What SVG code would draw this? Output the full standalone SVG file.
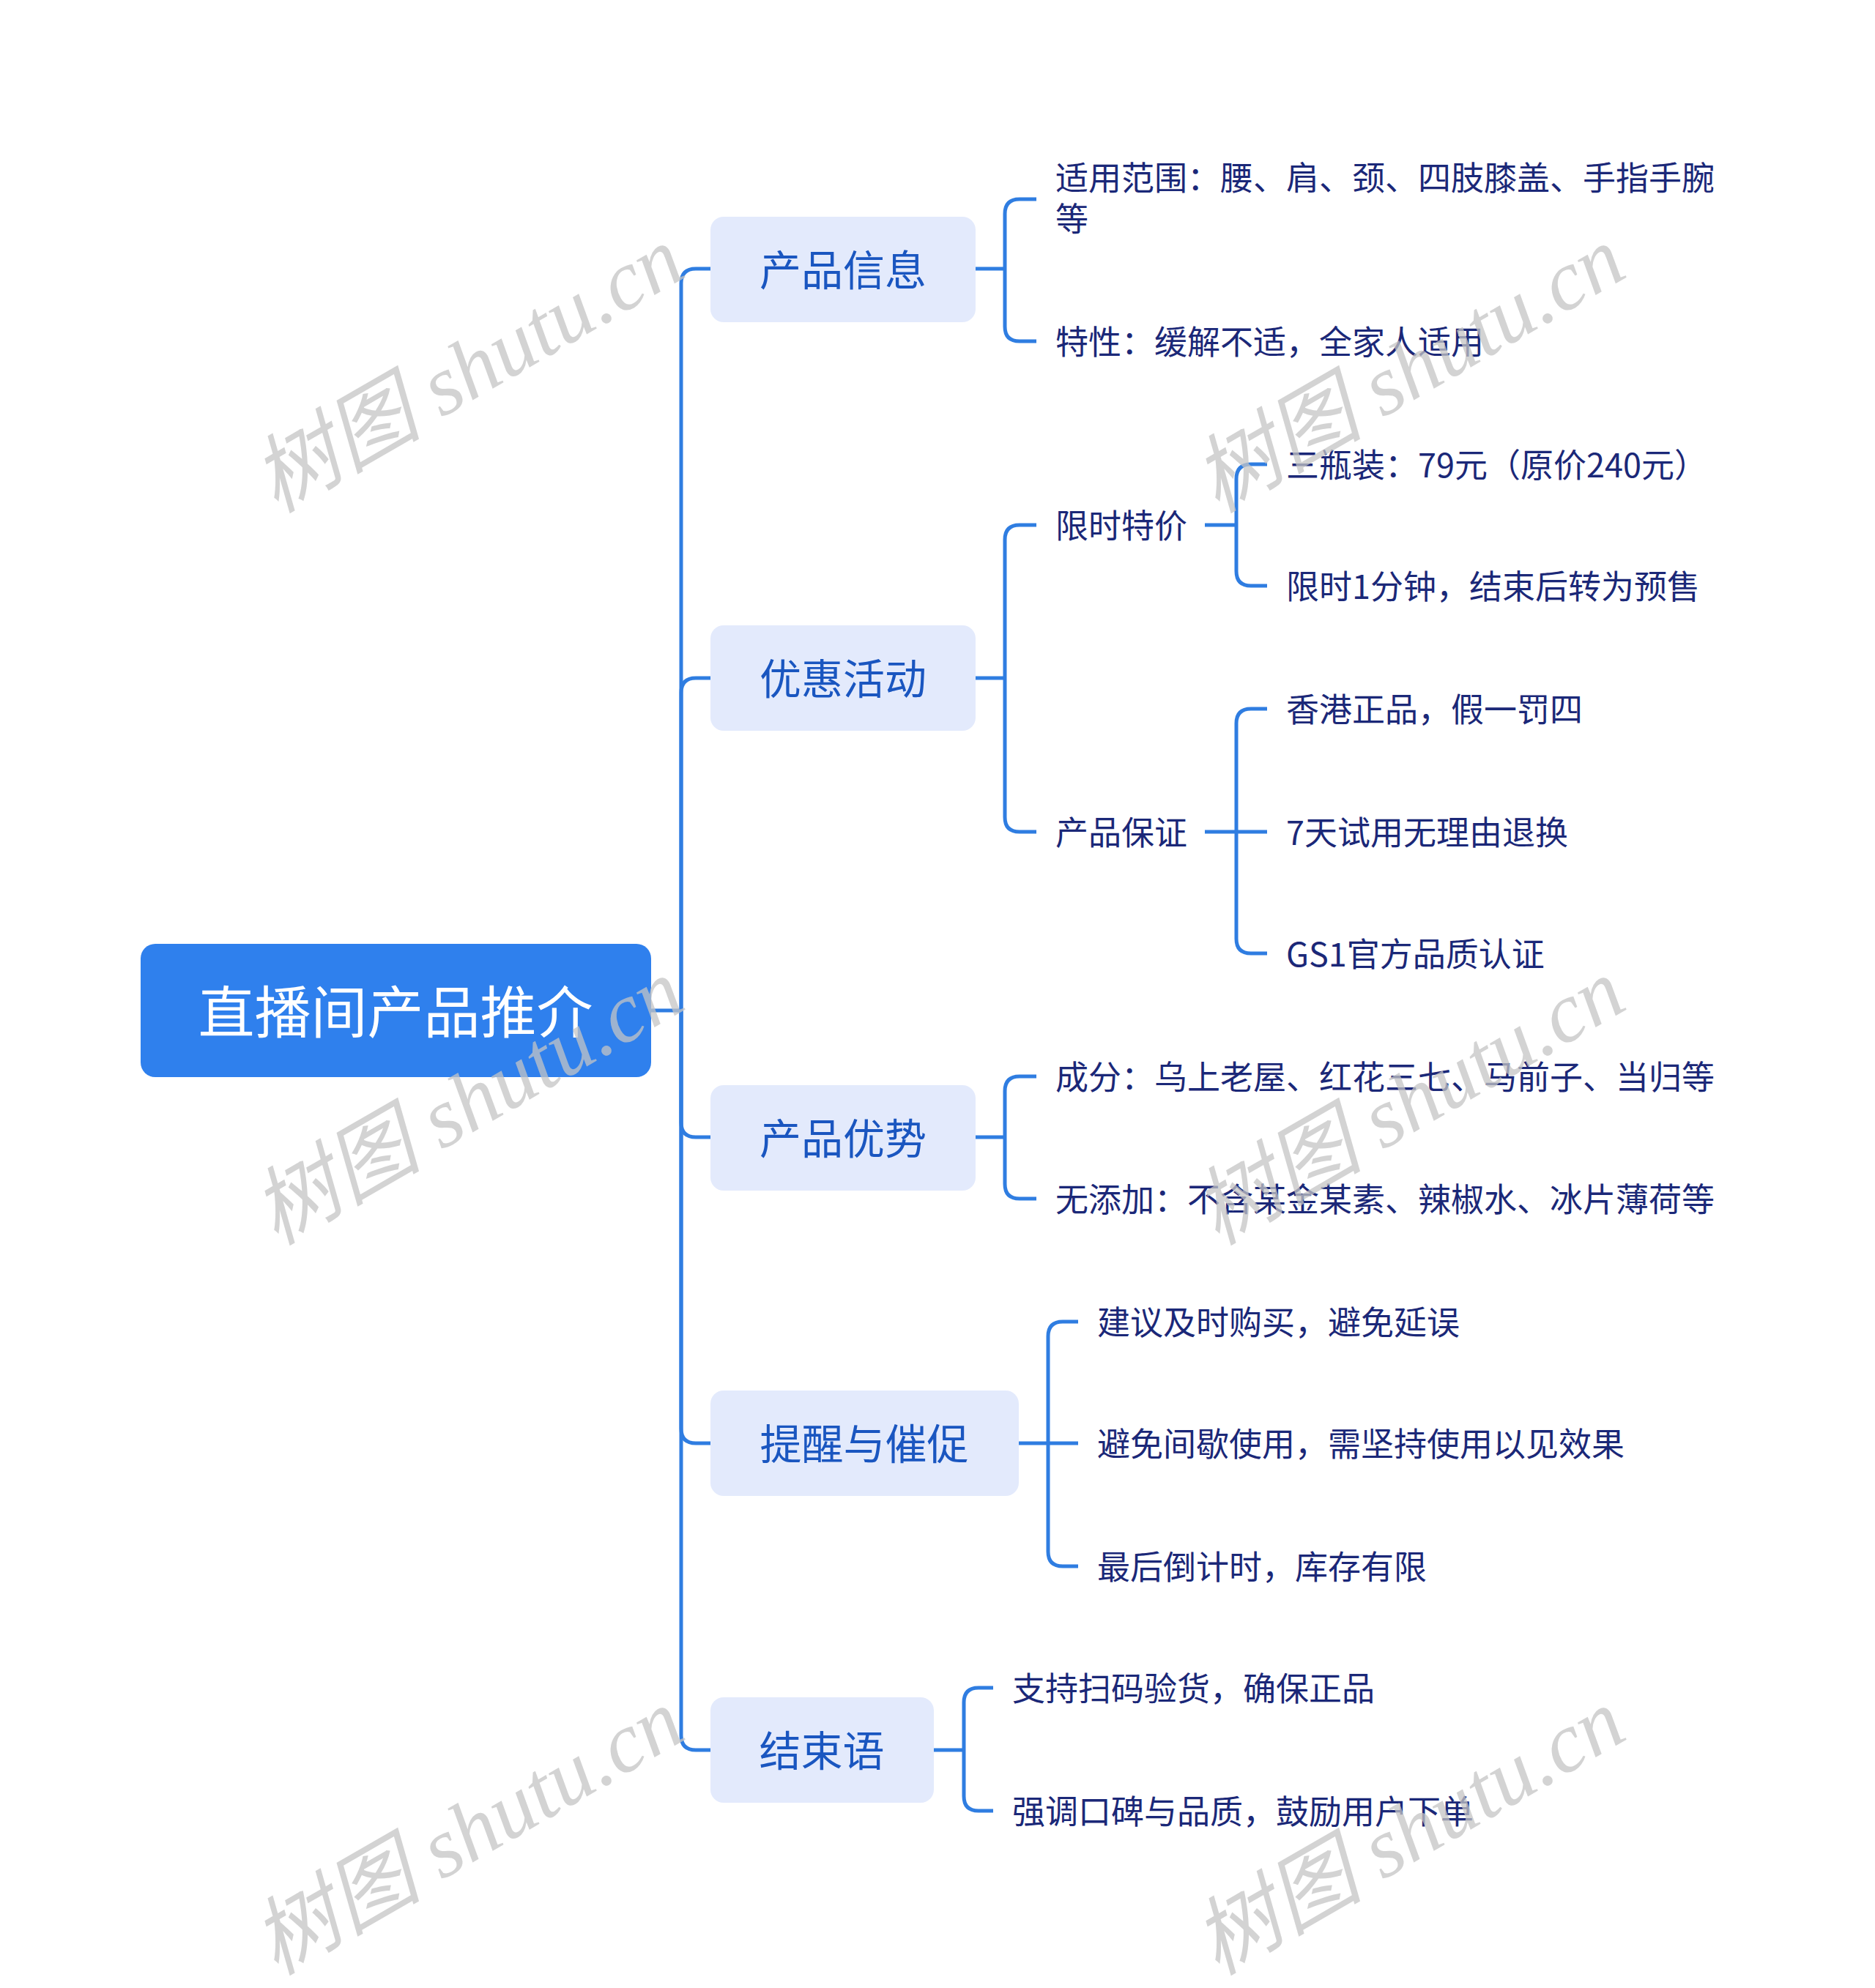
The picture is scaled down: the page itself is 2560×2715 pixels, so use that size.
<svg xmlns="http://www.w3.org/2000/svg" width="2560" height="2715" viewBox="0 0 2560 2715">
<style>
.conn{fill:none;stroke:#2f7de1;stroke-width:5;stroke-linecap:butt;stroke-linejoin:round}
.root rect{fill:#2f80ed}
.root text{fill:#ffffff;font-family:"Noto Sans CJK SC","Noto Sans",sans-serif;font-size:77px;text-anchor:middle;dominant-baseline:central}
.l1 rect{fill:#e3eafc}
.l1 text{fill:#1a56c0;font-family:"Noto Sans CJK SC","Noto Sans",sans-serif;font-size:57px;text-anchor:middle;dominant-baseline:central}
.leaf text{fill:#1b2878;font-family:"Noto Sans CJK SC","Noto Sans",sans-serif;font-size:45px;dominant-baseline:central}
.wm text{fill:#c4c4c4;fill-opacity:0.75;font-family:"Liberation Serif","Noto Sans CJK SC",serif;font-style:italic;font-size:116px;text-anchor:middle;dominant-baseline:central}
</style>
<rect width="2560" height="2715" fill="#ffffff"/>
<g id="connectors">
<path class="conn" d="M889,1380 H930"/>
<path class="conn" d="M930,1380 V387 Q930,367 950,367 H970"/>
<path class="conn" d="M930,1380 V946 Q930,926 950,926 H970"/>
<path class="conn" d="M930,1380 V1533 Q930,1553 950,1553 H970"/>
<path class="conn" d="M930,1380 V1951 Q930,1971 950,1971 H970"/>
<path class="conn" d="M930,1380 V2370 Q930,2390 950,2390 H970"/>
<path class="conn" d="M1332,367 H1372 M1372,367 V292 Q1372,272 1392,272 H1415 M1372,367 V446 Q1372,466 1392,466 H1415"/>
<path class="conn" d="M1332,926 H1372 M1372,926 V737 Q1372,717 1392,717 H1415 M1372,926 V1116 Q1372,1136 1392,1136 H1415"/>
<path class="conn" d="M1645,717 H1688 M1688,717 V654 Q1688,634 1708,634 H1730 M1688,717 V780 Q1688,800 1708,800 H1730"/>
<path class="conn" d="M1645,1136 H1730 M1688,1136 V988 Q1688,968 1708,968 H1730 M1688,1136 V1282 Q1688,1302 1708,1302 H1730"/>
<path class="conn" d="M1332,1553 H1372 M1372,1553 V1490 Q1372,1470 1392,1470 H1415 M1372,1553 V1617 Q1372,1637 1392,1637 H1415"/>
<path class="conn" d="M1391,1971 H1472 M1431,1971 V1825 Q1431,1805 1451,1805 H1472 M1431,1971 V2119 Q1431,2139 1451,2139 H1472"/>
<path class="conn" d="M1275,2390 H1316 M1316,2390 V2325 Q1316,2305 1336,2305 H1356 M1316,2390 V2453 Q1316,2473 1336,2473 H1356"/>
</g>
<g id="root" class="root"><rect x="192" y="1289" width="697" height="182" rx="20"/><text x="540" y="1377">直播间产品推介</text></g>
<g id="n-info" class="l1"><rect x="970" y="296" width="362" height="144" rx="18"/><text x="1151" y="365">产品信息</text></g>
<g id="n-promo" class="l1"><rect x="970" y="854" width="362" height="144" rx="18"/><text x="1151" y="923">优惠活动</text></g>
<g id="n-adv" class="l1"><rect x="970" y="1482" width="362" height="144" rx="18"/><text x="1151" y="1551">产品优势</text></g>
<g id="n-remind" class="l1"><rect x="970" y="1899" width="421" height="144" rx="18"/><text x="1180" y="1968">提醒与催促</text></g>
<g id="n-end" class="l1"><rect x="970" y="2318" width="305" height="144" rx="18"/><text x="1122" y="2387">结束语</text></g>
<g id="leaf-scope" class="leaf"><text x="1441" y="240"><tspan x="1441" y="240">适用范围：腰、肩、颈、四肢膝盖、手指手腕</tspan><tspan x="1441" y="296">等</tspan></text></g>
<g id="leaf-feature" class="leaf"><text x="1441" y="464">特性：缓解不适，全家人适用</text></g>
<g id="n-limited" class="leaf"><text x="1441" y="715">限时特价</text></g>
<g id="leaf-price" class="leaf"><text x="1756" y="632">三瓶装：79元（原价240元）</text></g>
<g id="leaf-minute" class="leaf"><text x="1756" y="798">限时1分钟，结束后转为预售</text></g>
<g id="n-guarantee" class="leaf"><text x="1441" y="1134">产品保证</text></g>
<g id="leaf-hk" class="leaf"><text x="1756" y="966">香港正品，假一罚四</text></g>
<g id="leaf-7day" class="leaf"><text x="1756" y="1134">7天试用无理由退换</text></g>
<g id="leaf-gs1" class="leaf"><text x="1756" y="1300">GS1官方品质认证</text></g>
<g id="leaf-ingr" class="leaf"><text x="1441" y="1468">成分：乌上老屋、红花三七、马前子、当归等</text></g>
<g id="leaf-noadd" class="leaf"><text x="1441" y="1635">无添加：不含某金某素、辣椒水、冰片薄荷等</text></g>
<g id="leaf-buy" class="leaf"><text x="1498" y="1803">建议及时购买，避免延误</text></g>
<g id="leaf-keep" class="leaf"><text x="1498" y="1969">避免间歇使用，需坚持使用以见效果</text></g>
<g id="leaf-count" class="leaf"><text x="1498" y="2137">最后倒计时，库存有限</text></g>
<g id="leaf-scan" class="leaf"><text x="1382" y="2303">支持扫码验货，确保正品</text></g>
<g id="leaf-praise" class="leaf"><text x="1382" y="2471">强调口碑与品质，鼓励用户下单</text></g>
<g class="wm">
<text transform="translate(639,505) rotate(-30)">树图 shutu.cn</text>
<text transform="translate(1924,505) rotate(-30)">树图 shutu.cn</text>
<text transform="translate(639,1505) rotate(-30)">树图 shutu.cn</text>
<text transform="translate(1924,1505) rotate(-30)">树图 shutu.cn</text>
<text transform="translate(639,2502) rotate(-30)">树图 shutu.cn</text>
<text transform="translate(1924,2502) rotate(-30)">树图 shutu.cn</text>
</g>
</svg>
